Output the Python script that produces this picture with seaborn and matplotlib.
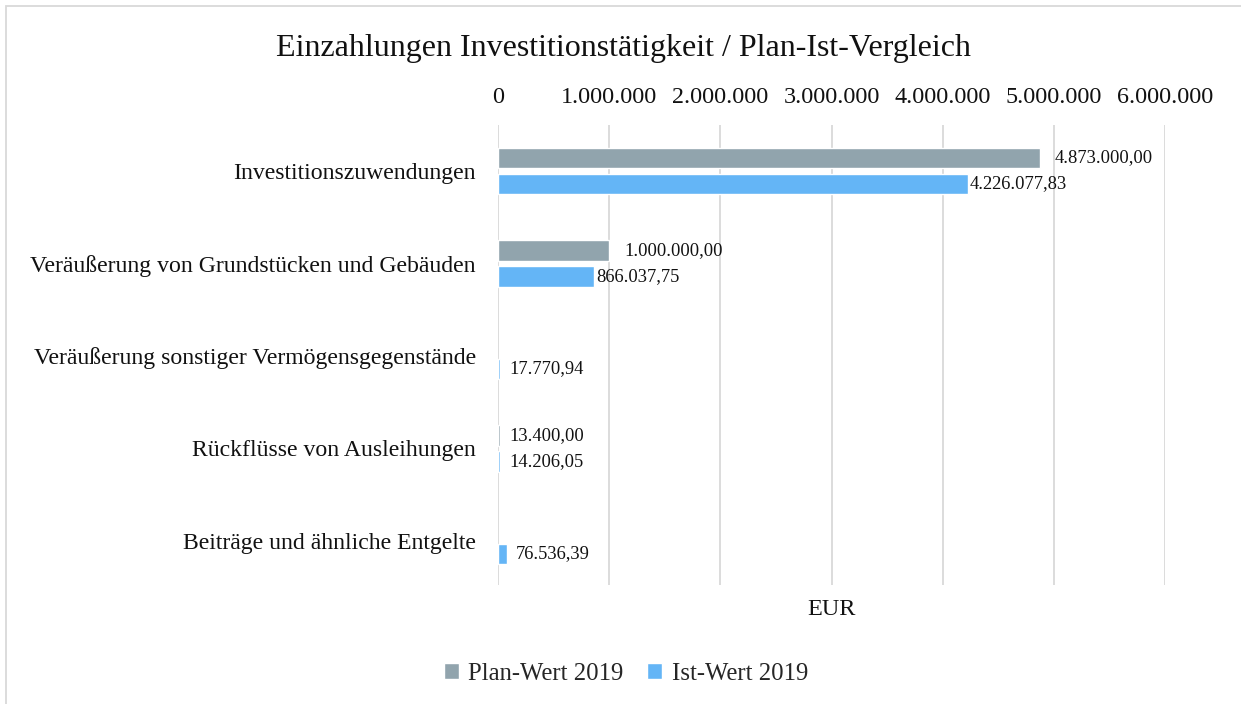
import numpy as np
import pandas as pd
import matplotlib.pyplot as plt
import seaborn as sns
from matplotlib.patches import Rectangle
from matplotlib.ticker import FuncFormatter

sns.set_theme(style="white")
plt.rcParams["font.family"] = ["Liberation Serif", "DejaVu Serif"]


# --------------------------------------------------
# Data
# --------------------------------------------------

categories = [
    "Investitionszuwendungen",
    "Veräußerung von Grundstücken und Gebäuden",
    "Veräußerung sonstiger Vermögensgegenstände",
    "Rückflüsse von Ausleihungen",
    "Beiträge und ähnliche Entgelte",
]

plan_2019 = [4873000.00, 1000000.00, np.nan, 13400.00, np.nan]
ist_2019 = [4226077.83, 866037.75, 17770.94, 14206.05, 76536.39]

series_names = ["Plan-Wert 2019", "Ist-Wert 2019"]
colors = ["#91a4ad", "#64b5f6"]

x_ticks = [0, 1000000, 2000000, 3000000, 4000000, 5000000, 6000000]


def de_int(v, pos=None):
    return f"{v:,.0f}".replace(",", ".")


def de_money(v):
    s = f"{v:,.2f}"
    return s.replace(",", "X").replace(".", ",").replace("X", ".")


# --------------------------------------------------
# Build long table
# --------------------------------------------------

df = pd.DataFrame({
    "Kategorie": categories * 2,
    "Serie": [series_names[0]] * len(categories) + [series_names[1]] * len(categories),
    "Wert": plan_2019 + ist_2019,
})

# --------------------------------------------------
# Plot
# --------------------------------------------------

fig = plt.figure(figsize=(12.41, 7.04), dpi=100)
ax = fig.add_axes([0.4013, 0.169, 0.5375, 0.6538])

sns.barplot(
    data=df,
    x="Wert",
    y="Kategorie",
    hue="Serie",
    order=categories,
    hue_order=series_names,
    palette=colors,
    orient="h",
    width=0.56,
    gap=0.21,
    errorbar=None,
    saturation=1,
    ax=ax,
)

ax.set_xlim(0, 6000000)
ax.set_ylim(4.476, -0.5)
ax.set_xticks(x_ticks)
ax.xaxis.set_major_formatter(FuncFormatter(de_int))
ax.xaxis.tick_top()
ax.xaxis.set_label_position("bottom")
ax.set_xlabel("EUR", fontsize=17.5, labelpad=10, color="#111111")
ax.set_ylabel("")

ax.tick_params(axis="x", length=0, pad=12, labelsize=17.4, colors="#111111")
ax.tick_params(axis="y", length=0, pad=16, labelsize=17.1, colors="#111111")

ax.grid(axis="x", color="#d9d9d9", linewidth=1.3)
ax.set_axisbelow(True)
for s in ax.spines.values():
    s.set_visible(False)

# data labels
for container in ax.containers:
    for bar in container:
        w = bar.get_width()
        if np.isnan(w) or w == 0:
            continue
        if w < 100000:
            off = 7
        elif container is ax.containers[0]:
            off = 11
        else:
            off = 1.5
        ax.annotate(
            de_money(w),
            xy=(w, bar.get_y() + bar.get_height() / 2),
            xytext=(off, 0),
            textcoords="offset points",
            ha="left",
            va="center",
            fontsize=13.3,
            color="#111111",
        )

# legend
handles, labels = ax.get_legend_handles_labels()
ax.get_legend().remove()
fig.legend(
    handles,
    labels,
    loc="center",
    bbox_to_anchor=(0.5045, 0.043),
    ncol=2,
    frameon=False,
    fontsize=17.8,
    handlelength=0.6,
    handleheight=0.6,
    handletextpad=0.4,
    columnspacing=0.95,
)

fig.suptitle(
    "Einzahlungen Investitionstätigkeit / Plan-Ist-Vergleich",
    x=0.5025,
    y=0.931,
    va="center",
    fontsize=23,
    color="#111111",
)

# chart frame
fig.patches.append(Rectangle(
    (6 / 1241, -0.1), 1.2, 1.1 - 6 / 704,
    transform=fig.transFigure, fill=False,
    edgecolor="#d9d9d9", linewidth=1.3,
))

fig.savefig("out.png", dpi=100)
plt.close(fig)
